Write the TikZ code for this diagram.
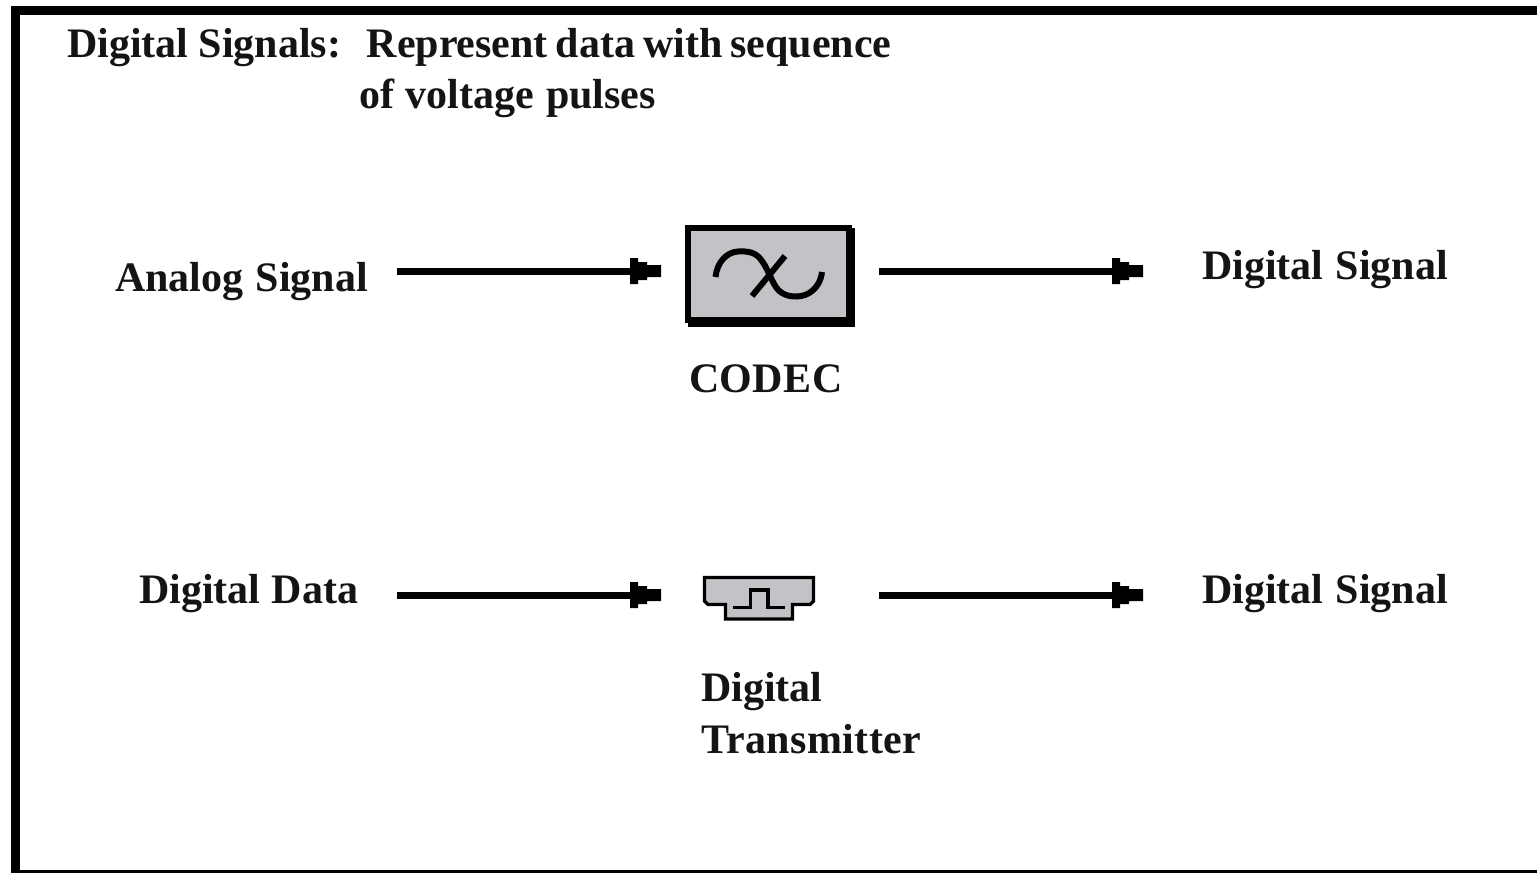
\documentclass[tikz,border=0pt]{standalone}
\usepackage{fontspec}
\setmainfont{Liberation Serif}[BoldFont={Liberation Serif Bold}]
\makeatletter
\pgfdeclarearrow{
  name=BluntHead,
  setup code={\pgfarrowssettipend{0pt}\pgfarrowssetlineend{-8pt}\pgfarrowssetvisualbackend{-31pt}},
  drawing code={
    \pgfpathmoveto{\pgfqpoint{0pt}{6pt}}
    \pgfpathlineto{\pgfqpoint{-14pt}{6pt}}
    \pgfpathlineto{\pgfqpoint{-14pt}{9pt}}
    \pgfpathlineto{\pgfqpoint{-23pt}{9pt}}
    \pgfpathlineto{\pgfqpoint{-23pt}{13pt}}
    \pgfpathlineto{\pgfqpoint{-31pt}{13pt}}
    \pgfpathlineto{\pgfqpoint{-31pt}{-13pt}}
    \pgfpathlineto{\pgfqpoint{-23pt}{-13pt}}
    \pgfpathlineto{\pgfqpoint{-23pt}{-9pt}}
    \pgfpathlineto{\pgfqpoint{-14pt}{-9pt}}
    \pgfpathlineto{\pgfqpoint{-14pt}{-6pt}}
    \pgfpathlineto{\pgfqpoint{0pt}{-6pt}}
    \pgfpathclose
    \pgfusepathqfill
  }
}
\makeatother
\definecolor{boxgray}{HTML}{C4C2C6}
\tikzset{
  x=1pt,y=-1pt,
  lbl/.style={anchor=base west,inner sep=0pt,outer sep=0pt,font=\bfseries\fontsize{42}{51}\selectfont,text=black!92},
  sig/.style={line width=7pt,-BluntHead},
  framebar/.style={fill=black,draw=none},
  codecbox/.style={draw=black,line width=6pt,fill=boxgray,minimum width=161pt,minimum height=92pt,inner sep=0pt,outer sep=0pt},
  glyph/.style={draw=black,line width=6pt,line cap=butt},
  txbody/.style={draw=black,line width=3.2pt,fill=boxgray,line join=miter},
  pulse/.style={draw=black,line width=3.2pt}
}
\begin{document}
\begin{tikzpicture}
\useasboundingbox (0,0) rectangle (1537,873);
% frame
\fill[framebar] (11,6) rectangle (1537,15);
\fill[framebar] (11,6) rectangle (20,873);
\fill[framebar] (11,870) rectangle (1537,873);
% title
\node[lbl,align=left,anchor=north west] (title) at (67,28) {Digital Signals:\hspace{25.5pt}{\spaceskip=8pt Represent data with sequence}\\\hspace*{292pt}{\spaceskip=12pt of voltage pulses}};
% codec
\fill[black] (688,228) rectangle (855,327);
\node[codecbox] (codec) at (768.5,274) {};
\draw[glyph] (715.5,277) .. controls (717,262) and (727,252) .. (738,251.5) .. controls (748,251) and (756,252) .. (762,261) .. controls (770,272) and (773,288) .. (782,293) .. controls (790,298) and (804,298) .. (812,291) .. controls (818,286) and (821,280) .. (822,272);
\draw[glyph] (785,256) -- (752,296);
\node[lbl] (codeclabel) at (689,392) {\addfontfeature{LetterSpace=1.0}CODEC};
% transmitter
\path[txbody] (704.5,577.5) -- (813.5,577.5) -- (813.5,601) -- (810,604.5) -- (792.5,604.5) -- (792.5,619) -- (725.5,619) -- (725.5,604.5) -- (708,604.5) -- (704.5,601) -- cycle;
\node[inner sep=0pt,outer sep=0pt,minimum width=109pt,minimum height=27pt] (tx) at (759,591) {};
\draw[pulse] (733,607.5) -- (750.5,607.5) -- (750.5,590) -- (768,590) -- (768,607.5) -- (785,607.5);
\node[lbl,align=left,anchor=north west] (txlabel) at (701,672.5) {Digital\\[0.5pt]{\addfontfeature{LetterSpace=1.0}Transmitter}};
% labels
\node[lbl] (analog) at (115,291) {{\spaceskip=12.5pt Analog Signal}};
\node[lbl] (data) at (139,603) {{\spaceskip=11.5pt Digital Data}};
\node[lbl] (out1) at (1202,279) {{\spaceskip=12.5pt Digital Signal}};
\node[lbl] (out2) at (1202,603) {{\spaceskip=12.5pt Digital Signal}};
% connectors
\coordinate (row1) at (0,271);
\coordinate (row2) at (0,595);
\draw[sig,shorten <=29pt,shorten >=27pt] (analog.east |- row1) -- (codec.west |- row1);
\draw[sig,shorten <=30pt,shorten >=59pt] (codec.east |- row1) -- (out1.west |- row1);
\draw[sig,shorten <=39pt,shorten >=43.5pt] (data.east |- row2) -- (tx.west |- row2);
\draw[sig,shorten <=65.5pt,shorten >=59pt] (tx.east |- row2) -- (out2.west |- row2);
\end{tikzpicture}
\end{document}
